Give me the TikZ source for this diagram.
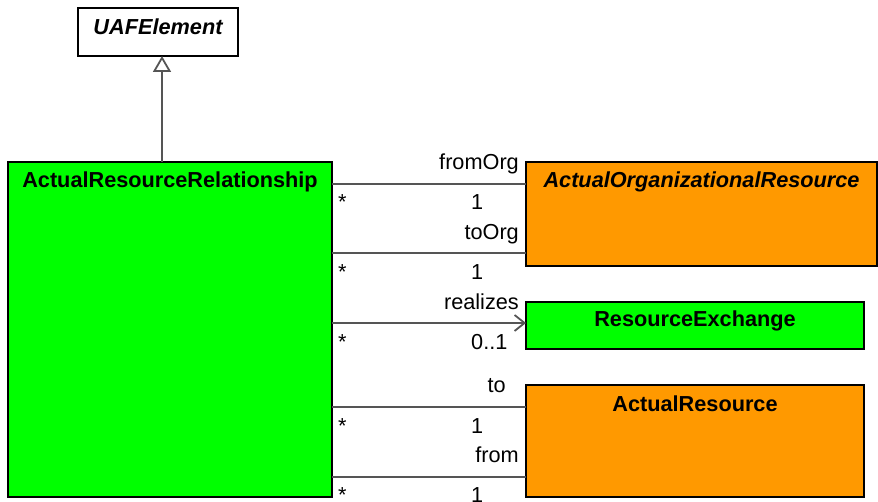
\documentclass[tikz,border=0pt]{standalone}
\usepackage{fontspec}
\setmainfont{Liberation Sans}
\usetikzlibrary{arrows.meta,calc}
\definecolor{umlgreen}{RGB}{0,255,0}
\definecolor{umlorange}{RGB}{255,153,0}
\definecolor{conngray}{RGB}{85,85,85}
\begin{document}
\begin{tikzpicture}[x=1pt,y=-1pt,
  box/.style={draw=black,line width=2pt,rectangle,inner sep=0pt,outer sep=0pt,anchor=north west},
  ttl/.style={inner sep=0pt,anchor=base,font=\fontsize{21.7}{26}\selectfont\bfseries},
  ittl/.style={inner sep=0pt,anchor=base,font=\fontsize{21.7}{26}\selectfont\bfseries\itshape},
  lbl/.style={inner sep=0pt,font=\fontsize{21.7}{26}\selectfont},
  conn/.style={draw=conngray,line width=1.8pt},
  gen/.style={conn,-{Triangle[open,length=16pt,width=18pt,fill=white]}},
  nav/.style={conn,-{Straight Barb[length=10pt,width=16pt]}}
]
\useasboundingbox (0,0) rectangle (878,502);
\fill[white] (0,0) rectangle (878,502);
% boxes
\node[box,fill=white,minimum width=160pt,minimum height=48pt] (uaf) at (78,8) {};
\node[box,fill=umlgreen,minimum width=324pt,minimum height=335pt] (arr) at (8,162) {};
\node[box,fill=umlorange,minimum width=351pt,minimum height=104pt] (aor) at (526,162) {};
\node[box,fill=umlgreen,minimum width=338pt,minimum height=47pt] (rex) at (526,302) {};
\node[box,fill=umlorange,minimum width=338pt,minimum height=112pt] (ar) at (526,385) {};
% titles
\node[ittl] (uaft) at ($(uaf.north)+(0,27)$) {UAFElement};
\node[ttl] (arrt) at ($(arr.north)+(0,25.5)$) {ActualResourceRelationship};
\node[ittl] (aort) at ($(aor.north)+(0,26)$) {ActualOrganizationalResource};
\node[ttl] (rext) at ($(rex.north)+(0,25)$) {ResourceExchange};
\node[ttl] (art) at ($(ar.north)+(0,26)$) {ActualResource};
% helper coordinates
\coordinate (gx) at (162,0);
\coordinate (y1) at (0,184);
\coordinate (y2) at (0,253);
\coordinate (y3) at (0,323);
\coordinate (y4) at (0,407);
\coordinate (y5) at (0,477);
% generalization
\draw[gen] (arr.north -| gx) -- (uaf.south -| gx);
% associations
\draw[conn] (arr.east |- y1) -- (aor.west |- y1);
\draw[conn] (arr.east |- y2) -- (aor.west |- y2);
\draw[nav] (arr.east |- y3) -- (rex.west |- y3);
\draw[conn] (arr.east |- y4) -- (ar.west |- y4);
\draw[conn] (arr.east |- y5) -- (ar.west |- y5);
% labels
\node[lbl,anchor=base east] (l1) at (519,170) {fromOrg};
\node[lbl,anchor=base west] (m1) at (471,210) {1};
\node[lbl,anchor=base west] (s1) at (338,210) {*};
\node[lbl,anchor=base east] (l2) at (519,240) {toOrg};
\node[lbl,anchor=base west] (m2) at (471,280) {1};
\node[lbl,anchor=base west] (s2) at (338,280) {*};
\node[lbl,anchor=base east] (l3) at (519,310) {realizes};
\node[lbl,anchor=base west] (m3) at (471,350) {0..1};
\node[lbl,anchor=base west] (s3) at (338,350) {*};
\node[lbl,anchor=base east] (l4) at (506,392) {to};
\node[lbl,anchor=base west] (m4) at (471,433) {1};
\node[lbl,anchor=base west] (s4) at (338,433) {*};
\node[lbl,anchor=base east] (l5) at (519,462) {from};
\node[lbl,anchor=base west] (m5) at (471,502) {1};
\node[lbl,anchor=base west] (s5) at (338,502) {*};
\end{tikzpicture}
\end{document}
